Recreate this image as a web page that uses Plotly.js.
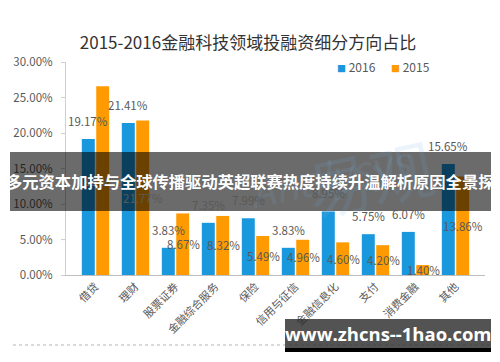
<!DOCTYPE html>
<html>
<head>
<meta charset="utf-8">
<script src="https://cdn.plot.ly/plotly-3.0.1.min.js"></script>
<style>html,body{margin:0;padding:0;background:#fff;}#chart{width:500px;height:362px;}</style>
</head>
<body>
<div id="chart"></div>
<script>
const categories = ["借贷","理财","股票证券","金融综合服务","保险","信用与征信","金融信息化","支付","消费金融","其他"];
const seriesNames = ["2016", "2015"];
const values2016 = [19.17, 21.41, 3.83, 7.35, 7.99, 3.83, 8.95, 5.75, 6.07, 15.65];
const values2015 = [26.60, 21.77, 8.67, 8.32, 5.49, 4.96, 4.60, 4.20, 1.40, 13.86];
const yTicks = [0, 5, 10, 15, 20, 25, 30];
const yTickLabels = ["0.00%","5.00%","10.00%","15.00%","20.00%","25.00%","30.00%"];
const titleText = "2015-2016金融科技领域投融资细分方向占比";
const bannerText = "多元资本加持与全球传播驱动英超联赛热度持续升温解析原因全景探";
const siteText = "www.zhcns--1hao.com";

const FONT = "'Noto Sans CJK SC', 'Noto Sans', sans-serif";
const BLUE = "#1a98de", ORANGE = "#ff9b00", GRAY = "#595959";
const colors = [BLUE, ORANGE];

// plot area in pixels (for converting overlay placement)
const L = 66, R = 15, T = 62, B = 87, W = 500, H = 362;
const pw = W - L - R, ph = H - T - B;
const px = x => (x - L) / pw;
const py = y => (H - B - y) / ph;

const traces = [
  {type: "bar", name: seriesNames[0], x: categories, y: values2016, marker: {color: BLUE}, hoverinfo: "none", showlegend: false},
  {type: "bar", name: seriesNames[1], x: categories, y: values2015, marker: {color: ORANGE}, hoverinfo: "none", showlegend: false}
];

const annotations = [];
// watermark
annotations.push({x: px(445), y: py(115), xref: "paper", yref: "paper", text: "易观", showarrow: false,
  textangle: -12, font: {family: FONT, size: 64, color: "rgba(120,180,225,0.14)"}});
annotations.push({x: px(330), y: py(175), xref: "paper", yref: "paper", text: "<i>Analysys</i>", showarrow: false,
  textangle: -12, font: {family: FONT, size: 40, color: "rgba(120,180,225,0.14)"}});
categories.forEach((c, i) => {
  annotations.push({x: c, y: values2016[i], xref: "x", yref: "y", xshift: -7.5, yshift: 8,
    yanchor: "bottom", text: values2016[i].toFixed(2) + "%", showarrow: false,
    font: {family: FONT, size: 11.5, color: GRAY}});
  annotations.push({x: c, y: values2015[i] / 2, xref: "x", yref: "y", xshift: 7.5,
    yanchor: "middle", text: values2015[i].toFixed(2) + "%", showarrow: false,
    font: {family: FONT, size: 11.5, color: GRAY}});
});
// legend (compact, marker right next to text as in reference)
const legendX = [335, 389];
seriesNames.forEach((n, i) => {
  annotations.push({x: px(legendX[i]), y: py(66), xref: "paper", yref: "paper", xanchor: "left", yanchor: "middle",
    showarrow: false, text: '<span style="color:' + colors[i] + ';font-size:9px">■</span> ' + n,
    font: {family: FONT, size: 12, color: GRAY}});
});
// banner
annotations.push({x: px(250), y: py(181), xref: "paper", yref: "paper", text: "<b>" + bannerText + "</b>",
  showarrow: false, xanchor: "center", yanchor: "middle",
  font: {family: FONT, size: 16.3, color: "#ffffff"}});
// site box text
annotations.push({x: px(388), y: py(333), xref: "paper", yref: "paper", text: "<b>" + siteText + "</b>",
  showarrow: false, xanchor: "center", yanchor: "middle",
  font: {family: "'Open Sans', 'DejaVu Sans', sans-serif", size: 18.5, color: "#ffffff"}});

const shapes = [
  {type: "line", xref: "paper", yref: "paper", x0: px(13), x1: px(490), y0: py(345), y1: py(345),
    line: {color: "#b5b5b5", width: 1, dash: "dot"}},
  {type: "rect", xref: "paper", yref: "paper", x0: px(10), x1: px(491), y0: py(152), y1: py(211),
    fillcolor: "rgba(0,0,0,0.58)", line: {width: 0}},
  {type: "rect", xref: "paper", yref: "paper", x0: px(285), x1: px(491), y0: py(319), y1: py(348),
    fillcolor: "rgba(45,45,45,0.82)", line: {width: 0}},
  {type: "rect", xref: "paper", yref: "paper", x0: px(285), x1: px(491), y0: py(348), y1: py(352),
    fillcolor: "#000000", line: {width: 0}}
];

const layout = {
  width: W, height: H,
  margin: {l: L, r: R, t: T, b: B, pad: 0},
  paper_bgcolor: "#ffffff", plot_bgcolor: "#ffffff",
  font: {family: FONT, color: GRAY},
  title: {text: titleText, x: 0.496, xanchor: "center", y: 1 - 43 / H, yanchor: "middle",
    font: {family: FONT, size: 17, color: "#333333"}},
  barmode: "group", bargap: 0.28, bargroupgap: 0.1,
  showlegend: false,
  xaxis: {type: "category", tickangle: -45, showline: true, linecolor: "#bfbfbf", linewidth: 1,
    ticks: "", showgrid: false, zeroline: false, tickfont: {family: FONT, size: 11, color: GRAY}},
  yaxis: {range: [0, 30], tickvals: yTicks, ticktext: yTickLabels, showline: true, linecolor: "#d0d0d0",
    ticks: "outside", ticklen: 4, tickcolor: "#d0d0d0", showgrid: false, zeroline: false,
    ticklabelstandoff: 6, tickfont: {family: FONT, size: 11.5, color: GRAY}},
  annotations: annotations,
  shapes: shapes
};

Plotly.newPlot("chart", traces, layout, {displayModeBar: false, staticPlot: true});
</script>
</body>
</html>
